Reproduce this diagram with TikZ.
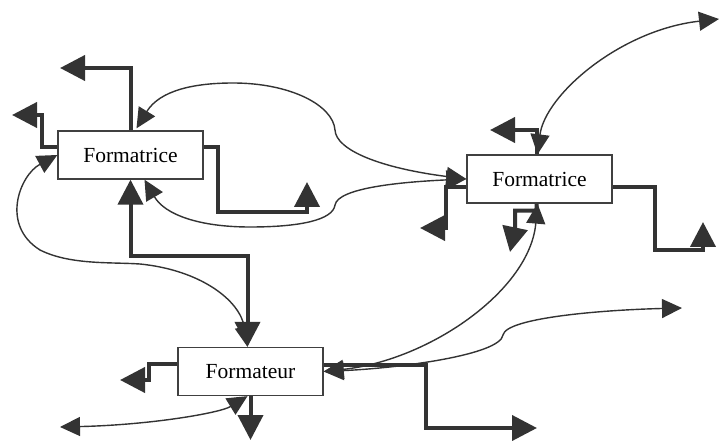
\documentclass[tikz,border=0pt]{standalone}
\usepackage{fontspec}
\setmainfont{Liberation Serif}
\usepackage{tikz}
\usetikzlibrary{arrows.meta,positioning,calc}
\usepackage{xcolor}
\definecolor{ink}{HTML}{333333}
\definecolor{frame}{HTML}{404040}

\begin{document}
\begin{tikzpicture}[x=1pt,y=-1pt,font=\rmfamily\fontsize{21.5}{25}\selectfont,
  box/.style={draw=frame,line width=1.3pt,minimum width=145pt,minimum height=48pt,inner sep=0pt},
  thk/.style={ink,line width=4pt,-{Triangle[length=25pt,width=25pt]}},
  thn/.style={ink,line width=1.4pt,{Triangle[length=20pt,width=19pt]}-{Triangle[length=20pt,width=19pt]}}]
  \useasboundingbox (0,0) rectangle (721,441);
  % the three boxes
  \node[box] (fa) at (130.5,155) {Formatrice};
  \node[box] (fb) at (539.5,179) {Formatrice};
  \node[box] (fc) at (250.5,371.5) {Formateur};
  % free ends
  \coordinate (ea1) at (60,68); \coordinate (ea2) at (12,115); \coordinate (ea3) at (307,182);
  \coordinate (eb1) at (490,130); \coordinate (eb2) at (420,228); \coordinate (eb3) at (703,222); \coordinate (eb4) at (510,252);
  \coordinate (ec1) at (537,428); \coordinate (ec2) at (120,380); \coordinate (ec3) at (250.5,440);
  \coordinate (tb) at (719,19); \coordinate (tc1) at (682,308); \coordinate (tc2) at (60,427);
  % elbow links (thick)
  \draw[thk] (fa.north) |- (ea1);
  \draw[thk] ([yshift=8pt]fa.west) -- ++(-15,0) |- (ea2);
  \draw[thk] ([yshift=8pt]fa.east) -| (218,212) -| (ea3);
  \draw[thk,{Triangle[length=25pt,width=25pt]}-{Triangle[length=25pt,width=25pt]}] (fa.south) -- ++(0,76) -| ([xshift=-3pt]fc.north);
  \draw[thk] ([xshift=-3pt]fb.north) |- (eb1);
  \draw[thk] ([yshift=-8pt]fb.west) -- ++(-20,0) |- (eb2);
  \draw[thk] ([yshift=-8pt]fb.east) -| (655,250) -| (eb3);
  \draw[thk] ([xshift=-3pt]fb.south) -- ++(0,7) -| (515,228) -- (eb4);
  \draw[thk] ([yshift=7pt]fc.east) -- ++(102,0) |- (ec1);
  \draw[thk] ([yshift=8pt]fc.west) -- ++(-28,0) |- (ec2);
  \draw[thk] (fc.south) -- (ec3);
  % curved links (thin)
  \draw[thn] ([xshift=6pt,yshift=2pt]fa.north) .. controls (160,90) and (195,83) .. (233,83) .. controls (290,83) and (333,105) .. (335,130) .. controls (336,150) and (380,168) .. (fb.west);
  \draw[thn] ([xshift=14pt]fa.south) .. controls (165,215) and (200,227) .. (250,227) .. controls (300,227) and (333,220) .. (335,205) .. controls (338,188) and (400,182) .. (fb.west);
  \draw[thn] ([xshift=-2pt]fb.north) .. controls (545,95) and (620,30) .. (tb);
  \draw[thn] (fc.east) .. controls (430,360) and (530,290) .. ([xshift=-2pt]fb.south);
  \draw[thn] (fc.east) .. controls (400,368) and (500,355) .. (503,335) .. controls (506,318) and (600,310) .. (tc1);
  \draw[thn] (tc2) .. controls (150,425) and (220,413) .. ([xshift=-3pt]fc.south);
  \draw[thn] (fa.west) .. controls (20,175) and (0,225) .. (40,250) .. controls (70,265) and (110,262) .. (140,264) .. controls (200,270) and (240,300) .. ([xshift=-3pt]fc.north);
\end{tikzpicture}
\end{document}
